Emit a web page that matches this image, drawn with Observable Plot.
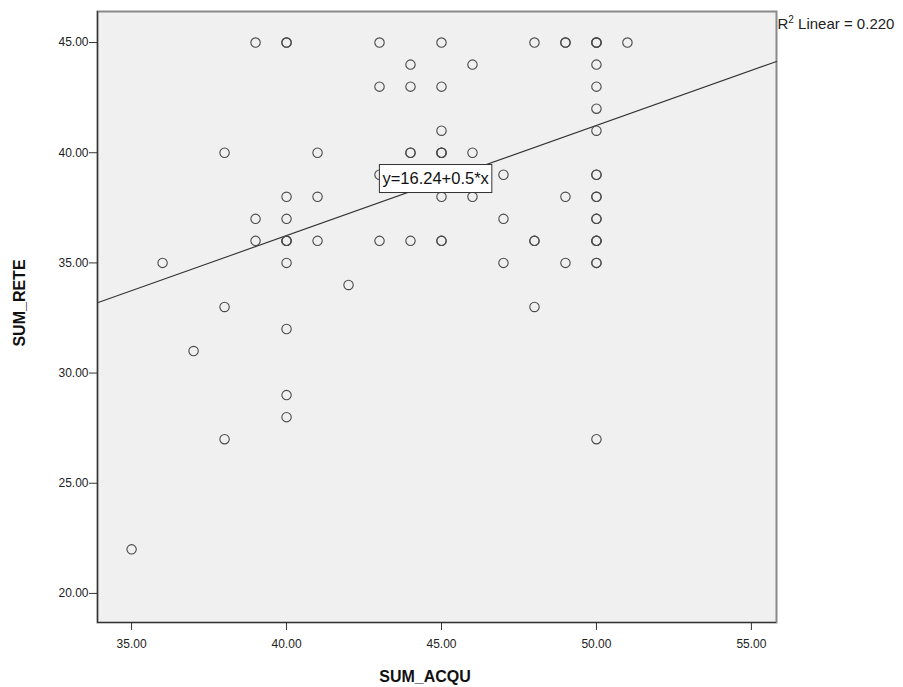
<!DOCTYPE html>
<html>
<head>
<meta charset="utf-8">
<script src="https://cdn.jsdelivr.net/npm/d3@7"></script>
<script src="https://cdn.jsdelivr.net/npm/@observablehq/plot@0.6"></script>
<style>
  html, body { margin: 0; padding: 0; background: #fff; }
  #chart { width: 903px; height: 687px; }
  #chart svg { font-family: "Liberation Sans", Arial, sans-serif; }
</style>
</head>
<body>
<div id="chart"></div>
<script>
// ---- data ----
const sumAcqu = [
  35, 36, 37,
  38, 38, 38,
  39, 39, 39,
  40, 40, 40, 40, 40, 40, 40, 40, 40, 40, 40,
  41, 41, 41,
  42,
  43, 43, 43, 43,
  44, 44, 44, 44, 44,
  45, 45, 45, 45, 45, 45, 45, 45, 45, 45,
  46, 46, 46,
  47, 47, 47,
  48, 48, 48, 48,
  49, 49, 49, 49,
  50, 50, 50, 50, 50, 50, 50, 50, 50, 50, 50, 50, 50, 50, 50, 50, 50, 50, 50,
  51
];
const sumRete = [
  22, 35, 31,
  40, 33, 27,
  45, 37, 36,
  45, 45, 38, 37, 36, 36, 36, 35, 32, 29, 28,
  40, 38, 36,
  34,
  45, 43, 39, 36,
  44, 43, 40, 40, 36,
  45, 43, 41, 40, 40, 40, 39, 38, 36, 36,
  44, 40, 38,
  39, 37, 35,
  45, 36, 36, 33,
  45, 45, 38, 35,
  45, 45, 45, 44, 43, 42, 41, 39, 39, 38, 38, 37, 37, 36, 36, 36, 35, 35, 27,
  45
];
const xTicks = [35, 40, 45, 50, 55];
const yTicks = [20, 25, 30, 35, 40, 45];
const fitIntercept = 16.24;
const fitSlope = 0.5;
const r2Linear = 0.220;

const xDomain = [33.9, 55.81];
const yDomain = [18.68, 46.41];

const points = sumAcqu.map((a, i) => ({acqu: a, rete: sumRete[i]}));
const fitLine = xDomain.map(x => ({x, y: fitIntercept + fitSlope * x}));
const eqLabel = `y=${fitIntercept}+${fitSlope}*x`;
const r2Label = `R2 Linear = ${r2Linear.toFixed(3)}`;
const fmt = d3.format(".2f");
const EQ_FONT = 16.5;

// text with a white boxed background
function boxedText(data, options) {
  return Plot.text(data, {
    ...options,
    render(index, scales, values, dimensions, context, next) {
      const g = next(index, scales, values, dimensions, context);
      const canvas = document.createElement("canvas").getContext("2d");
      canvas.font = `${options.fontSize}px "Liberation Sans", Arial, sans-serif`;
      for (const i of index) {
        const w = canvas.measureText(data[i]).width;
        const cx = values.x[i], cy = values.y[i];
        const rect = document.createElementNS("http://www.w3.org/2000/svg", "rect");
        rect.setAttribute("x", cx - w / 2 - 3);
        rect.setAttribute("y", cy - 14);
        rect.setAttribute("width", w + 6);
        rect.setAttribute("height", 28);
        rect.setAttribute("fill", "white");
        rect.setAttribute("stroke", "#333");
        rect.setAttribute("stroke-width", 1);
        g.insertBefore(rect, g.firstChild);
      }
      return g;
    }
  });
}

const chart = Plot.plot({
  width: 903,
  height: 687,
  marginLeft: 97,
  marginRight: 127,
  marginTop: 11,
  marginBottom: 65,
  style: {background: "#fff", color: "#222", fontSize: "12px"},
  x: {domain: xDomain, ticks: xTicks, tickFormat: fmt},
  y: {domain: yDomain, ticks: yTicks, tickFormat: fmt},
  marks: [
    Plot.frame({fill: "#f0f0f0", stroke: "#8a8a8a", strokeWidth: 2}),
    Plot.ruleX([xDomain[0]], {stroke: "#333", strokeWidth: 1.2}),
    Plot.ruleY([yDomain[0]], {stroke: "#333", strokeWidth: 1.2}),
    Plot.axisX({ticks: xTicks, tickFormat: fmt, tickSize: 8, tickPadding: 9,
      stroke: "#333", fontSize: 12,
      label: "SUM_ACQU", labelAnchor: "center", labelArrow: "none", labelOffset: 59}),
    Plot.axisY({ticks: yTicks, tickFormat: fmt, tickSize: 8, tickPadding: 1,
      stroke: "#333", fontSize: 12,
      label: "SUM_RETE", labelAnchor: "center", labelArrow: "none", labelOffset: 84}),
    Plot.line(fitLine, {x: "x", y: "y", stroke: "#333", strokeWidth: 1.1}),
    Plot.dot(points, {x: "acqu", y: "rete", r: 4.7, stroke: "#4a4a4a", strokeWidth: 1.1, fill: "none"}),
    boxedText([eqLabel], {x: [44.81], y: [38.83], text: d => d, fontSize: EQ_FONT, fill: "#111"}),
    Plot.text([r2Label], {frameAnchor: "top-right", textAnchor: "start", lineAnchor: "bottom",
      dx: 1, dy: 17, fontSize: 15, fill: "#222"})
  ]
});

// bold axis titles, nudged to the reference's placement
const xl = chart.querySelector("g[aria-label='x-axis label']");
const yl = chart.querySelector("g[aria-label='y-axis label']");
[xl, yl].forEach(g => g && g.querySelectorAll("text").forEach(t => {
  t.setAttribute("font-weight", "bold");
  t.setAttribute("font-size", "16");
  t.setAttribute("fill", "#111");
}));
if (xl) xl.setAttribute("transform", `translate(-12,0) ${xl.getAttribute("transform") || ""}`);
if (yl) yl.setAttribute("transform", `translate(0,-14) ${yl.getAttribute("transform") || ""}`);

// superscript "2" in the R² label
chart.querySelectorAll("text").forEach(t => {
  if (t.textContent === r2Label) {
    t.textContent = "";
    const mk = (txt, attrs) => {
      const s = document.createElementNS("http://www.w3.org/2000/svg", "tspan");
      s.textContent = txt;
      for (const k in attrs) s.setAttribute(k, attrs[k]);
      t.appendChild(s);
    };
    mk("R", {});
    mk("2", {"font-size": 10, dy: -6});
    mk(r2Label.slice(2), {dy: 6});
  }
});
document.getElementById("chart").appendChild(chart);
</script>
</body>
</html>
